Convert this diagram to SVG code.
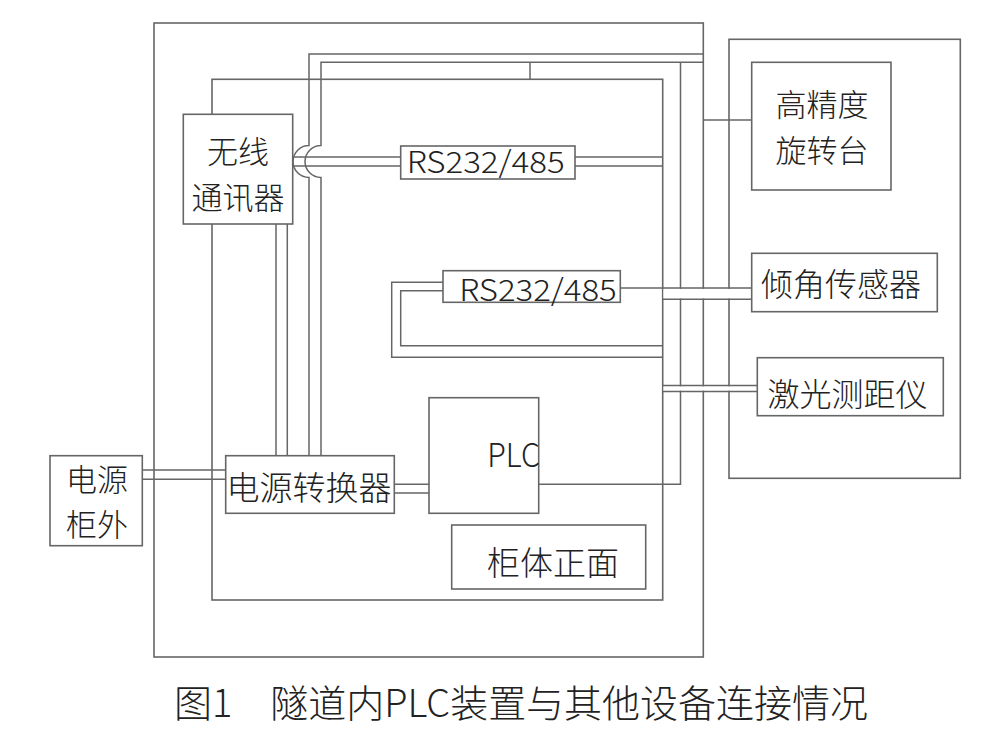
<svg xmlns="http://www.w3.org/2000/svg" width="982" height="746" viewBox="0 0 982 746">
<style>
.frame{fill:none;stroke:#666;stroke-width:1.6}
.box{fill:#fff;stroke:#666;stroke-width:1.6}
.ln{fill:none;stroke:#666;stroke-width:1.5}
.mask{fill:#fff;stroke:none}
.t{font-family:"Noto Sans CJK SC","Noto Sans","Liberation Sans",sans-serif;fill:#222;font-weight:300}
.l{font-size:33px;text-anchor:middle}
.r{font-size:32px;text-anchor:middle}
.m{font-size:31px;text-anchor:middle}
.rs{font-size:30px}
.cap{font-size:38px}
</style>
<rect width="982" height="746" fill="#fff"/>
<g id="cabinet-outer"><rect class="frame" x="154" y="23" width="549.3" height="634"/></g>
<g id="cabinet-front-frame"><rect class="frame" x="212" y="79.3" width="450.7" height="520.7"/></g>
<g id="device-frame"><rect class="frame" x="729" y="39.3" width="231.3" height="439"/></g>
<g id="connectors">
<path class="ln" d="M703.3,54 H309 V145.5 A16,16 0 0 0 309,177.5 V455.7"/>
<path class="ln" d="M703.3,62.3 H321 V145.5 A16,16 0 0 0 321,177.5 V455.7"/>
<path class="ln" d="M530,62.3 V79.3"/>
<path class="ln" d="M680.5,62.3 V484.3 H538.7"/>
<path class="ln" d="M293,157 H400.7 M575,157 H662.7 M293,166 H400.7 M575,166 H662.7"/>
<path class="ln" d="M276,224 V455.7 M287.3,224 V455.7"/>
<path class="ln" d="M142.3,470 H225.7 M142.3,479.3 H225.7"/>
<path class="ln" d="M394.3,484.3 H429 M394.3,493 H429"/>
<path class="ln" d="M443,282.3 H391.7 V357.3 H662.7"/>
<path class="ln" d="M443,290.7 H400.7 V345.7 H662.7"/>
<path class="ln" d="M703.3,120 H751.7"/>
<path class="ln" d="M620.3,288 H662.7"/>
<rect class="mask" x="663.5" y="288.8" width="88" height="9.7"/>
<rect class="mask" x="663.5" y="386.3" width="93.5" height="4.4"/>
<path class="ln" d="M662.7,288 H751.7 M662.7,299.3 H751.7"/>
<path class="ln" d="M662.7,385.5 H757.3 M662.7,391.5 H757.3"/>
</g>
<g id="wireless">
<rect class="box" x="183.3" y="114.3" width="109.4" height="109.7"/>
<text class="t m"><tspan x="238" y="163.2">无线</tspan><tspan x="238" y="208.8">通讯器</tspan></text>
</g>
<g id="rs-label-1">
<rect class="box" x="400.7" y="146" width="174.3" height="33"/>
<text class="t rs" x="406.7" y="173.3" textLength="158" lengthAdjust="spacingAndGlyphs">RS232/485</text>
</g>
<g id="rs-label-2">
<rect class="box" x="443" y="270.7" width="177.3" height="31.6"/>
<text class="t rs" x="459.3" y="300.7" textLength="157.4" lengthAdjust="spacingAndGlyphs">RS232/485</text>
</g>
<g id="rotary-table">
<rect class="box" x="751.7" y="62.3" width="139.3" height="127.7"/>
<text class="t m"><tspan x="822" y="116">高精度</tspan><tspan x="822" y="161.6">旋转台</tspan></text>
</g>
<g id="tilt-sensor">
<rect class="box" x="751.7" y="253.3" width="185.6" height="58.4"/>
<text class="t r" x="841" y="296">倾角传感器</text>
</g>
<g id="laser-rangefinder">
<rect class="box" x="757.3" y="357.7" width="186" height="58"/>
<text class="t r" x="847.5" y="406">激光测距仪</text>
</g>
<g id="power-outside">
<rect class="box" x="50" y="455.7" width="92.3" height="90"/>
<text class="t m"><tspan x="97" y="490.7">电源</tspan><tspan x="97" y="536.3">柜外</tspan></text>
</g>
<g id="power-converter">
<rect class="box" x="225.7" y="455.7" width="168.6" height="57.6"/>
<text class="t l" x="309" y="499.5">电源转换器</text>
</g>
<g id="plc">
<rect class="box" x="429" y="397.7" width="109.7" height="115.6"/>
<text class="t" style="font-size:33px" x="487.3" y="467.3" textLength="52.7" lengthAdjust="spacingAndGlyphs">PLC</text>
</g>
<g id="cabinet-front">
<rect class="box" x="451.7" y="525" width="194" height="64"/>
<text class="t l" x="553" y="575">柜体正面</text>
</g>
<g id="caption">
<text class="t cap" x="174" y="717" textLength="694">图1　隧道内PLC装置与其他设备连接情况</text>
</g>
</svg>
